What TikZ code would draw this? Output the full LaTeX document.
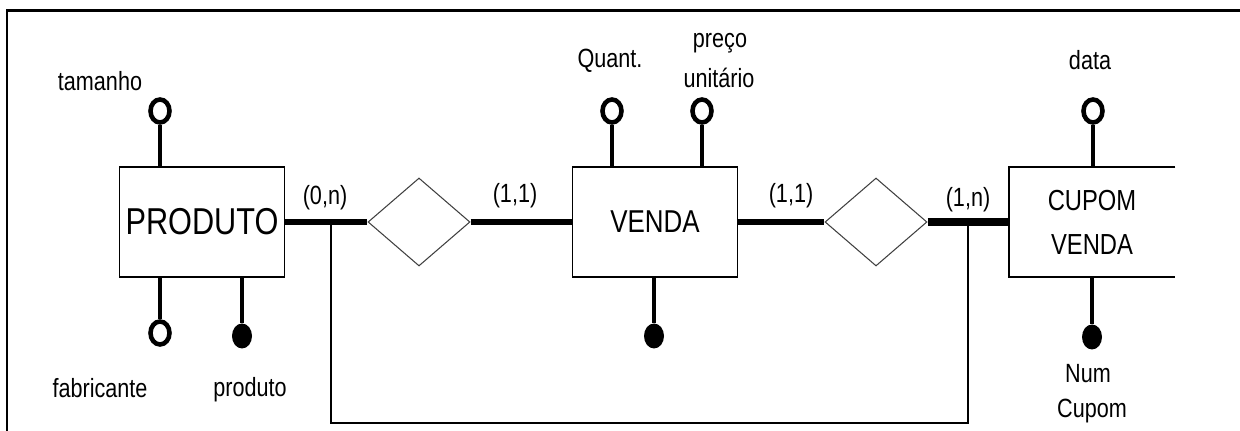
\documentclass[tikz,border=0pt]{standalone}
\usepackage{fontspec}
\setmainfont{Liberation Sans}[FakeStretch=0.82]
\usetikzlibrary{shapes.geometric}

\begin{document}
\begin{tikzpicture}[
  x=0.02cm, y=-0.02cm,
  entity/.style    = {draw, line width=1.1pt, inner sep=0pt,
                      minimum width=3.3cm, minimum height=2.2cm},
  opent/.style     = {inner sep=0pt, minimum width=3.32cm, minimum height=2.2cm},
                       % the right-hand entity is cut off: its box is drawn open
  rel/.style       = {diamond, draw=black!75, line width=0.6pt, inner sep=0pt,
                      minimum width=2.04cm, minimum height=1.76cm},
  conn/.style      = {line width=3.4pt},
  heavy/.style     = {line width=4.6pt},
  attr/.style      = {ellipse, draw, line width=2.6pt, inner sep=0pt,
                      minimum width=0.38cm, minimum height=0.46cm},
  keyattr/.style   = {ellipse, fill, inner sep=0pt,
                      minimum width=0.4cm, minimum height=0.5cm},
  link/.style      = {line width=2.8pt},
  lbl/.style       = {font=\fontsize{15}{17}\selectfont, anchor=base, inner sep=0pt},
  card/.style      = {font=\fontsize{15}{17}\selectfont, anchor=base, inner sep=0pt},
  loopline/.style  = {line width=0.9pt},
  frame/.style     = {line width=1.7pt},
]
  \useasboundingbox (0,0) rectangle (1240,431);
  \draw[frame] (7,431) -- (7,11) -- (1240,11);

  \node[entity, font=\fontsize{21.3}{23}\selectfont] (prod) at (202,222) {PRODUTO};
  \node[entity, font=\fontsize{18}{20}\selectfont] (venda) at (655,222) {VENDA};
  \node[opent, align=center, font=\fontsize{16.5}{25}\selectfont] (cupom) at (1092,222) {CUPOM\\VENDA};
  \draw[entity] (cupom.north east) -- (cupom.north west) -- (cupom.south west) -- (cupom.south east);

  \node[rel] (d1) at (419,222) {};
  \node[rel] (d2) at (876,222) {};

  \draw[conn] (prod.east) -- (d1.west);
  \draw[conn] (d1.east) -- (venda.west);
  \draw[conn] (venda.east) -- (d2.west);
  \draw[heavy] (d2.east) -- (d2.east -| cupom.west);

  \node[card] (c_prod) at (325,205) {(0,n)};
  \node[card] (c_vl) at (515,203) {(1,1)};
  \node[card] (c_vr) at (791,203) {(1,1)};
  \node[card] (c_cup) at (968,207) {(1,n)};

  % the thin line that joins the two relationship lines below VENDA
  \coordinate (jp) at (331,222);
  \coordinate (jc) at (968,222);
  \coordinate (lowleft) at (331,423);
  \draw[loopline] (jp) -- (lowleft) -| (jc);

  % attributes of PRODUTO
  \node[attr] (tam) at (160,111) {};
  \node[lbl] (tam_l) at (100,91) {tamanho};
  \draw[link] (tam.south) -- (tam.south |- prod.north);
  \node[attr] (fab) at (160,333) {};
  \node[lbl] (fab_l) at (100,398) {fabricante};
  \draw[link] (fab.north) -- (fab.north |- prod.south);
  \node[keyattr] (pk) at (242,336) {};
  \node[lbl] (pk_l) at (250,397) {produto};
  \draw[link] (pk) -- (pk |- prod.south);

  % attributes of VENDA
  \node[attr] (qt) at (612,111) {};
  \node[lbl] (qt_l) at (610,68) {Quant.};
  \draw[link] (qt.south) -- (qt.south |- venda.north);
  \node[attr] (pu) at (702,111) {};
  \node[lbl] (pu_l1) at (720,48) {preço};
  \node[lbl] (pu_l2) at (719,88) {unitário};
  \draw[link] (pu.south) -- (pu.south |- venda.north);
  \node[keyattr] (vk) at (654,336) {};
  \draw[link] (vk) -- (vk |- venda.south);

  % attributes of CUPOM VENDA
  \node[attr] (dt) at (1093,111) {};
  \node[lbl] (dt_l) at (1090,70) {data};
  \draw[link] (dt.south) -- (dt.south |- cupom.north);
  \node[keyattr] (nk) at (1092,337) {};
  \node[lbl] (nk_l1) at (1088,383) {Num};
  \node[lbl] (nk_l2) at (1092,418) {Cupom};
  \draw[link] (nk) -- (nk |- cupom.south);
\end{tikzpicture}
\end{document}
